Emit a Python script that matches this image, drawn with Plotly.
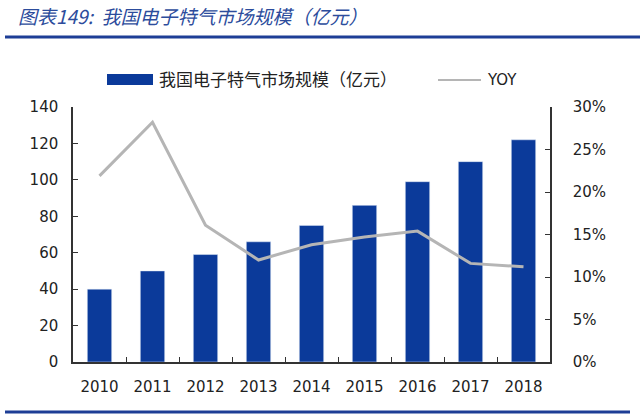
import plotly.graph_objects as go

years = ["2010", "2011", "2012", "2013", "2014", "2015", "2016", "2017", "2018"]
market_size = [40, 50, 59, 66, 75, 86, 99, 110, 122]
yoy = [0.219, 0.282, 0.161, 0.120, 0.138, 0.147, 0.154, 0.116, 0.112]

bar_name = "我国电子特气市场规模（亿元）"
line_name = "YOY"
title_text = "图表149:  我国电子特气市场规模（亿元）"

BLUE = "#0B3A9A"
GREY = "#B5B5B5"
AXIS = "#333333"

# plot area in pixels
L, R, T, B = 73, 550, 107, 362
PW, PH = R - L, B - T


def px(x):
    return (x - L) / PW


def py(y):
    return (B - y) / PH


fig = go.Figure()
fig.add_trace(go.Bar(x=years, y=market_size, name=bar_name, marker_color=BLUE, yaxis="y"))
fig.add_trace(go.Scatter(x=years, y=yoy, name=line_name, mode="lines",
                         line=dict(color=GREY, width=3), yaxis="y2"))

tick_font = dict(family="DejaVu Sans", size=15, color="#222222")

fig.update_layout(
    width=640, height=417,
    paper_bgcolor="white", plot_bgcolor="white",
    margin=dict(l=L, r=640 - R, t=T, b=417 - B),
    bargap=0.54,
    showlegend=False,
    font=dict(family="Noto Sans CJK SC", color="#222222"),
    title=dict(text=f"<i>{title_text}</i>", x=18 / 640, xanchor="left",
               y=1 - 17 / 417, yanchor="middle",
               font=dict(family="Noto Sans CJK SC", size=19, color="#2C4C9C")),
    xaxis=dict(showline=True, linecolor=AXIS, linewidth=1.5, ticks="inside", ticklen=5,
               tickson="boundaries", tickcolor=AXIS, tickfont=tick_font, showgrid=False,
               ticklabelstandoff=10),
    yaxis=dict(range=[0, 140], dtick=20, showline=True, linecolor=AXIS, linewidth=1.5,
               ticks="inside", ticklen=5, tickcolor=AXIS, tickfont=tick_font, showgrid=False,
               zeroline=False, ticklabelstandoff=10),
    yaxis2=dict(range=[0, 0.30], dtick=0.05, tickformat=".0%", overlaying="y", side="right",
                showline=True, linecolor=AXIS, linewidth=1.5, ticks="inside", ticklen=5,
                tickcolor=AXIS, tickfont=tick_font, showgrid=False, zeroline=False,
                ticklabelstandoff=18),
)

# legend drawn by hand: wide bar swatch and line swatch
fig.add_shape(type="rect", xref="paper", yref="paper", x0=px(107), x1=px(153),
              y0=py(85), y1=py(74), fillcolor=BLUE, line=dict(width=0))
fig.add_annotation(text=bar_name, xref="paper", yref="paper", x=px(157), y=py(79),
                   xanchor="left", yanchor="middle", showarrow=False,
                   font=dict(family="Noto Sans CJK SC", size=17, color="#222222"))
fig.add_shape(type="line", xref="paper", yref="paper", x0=px(438), x1=px(481),
              y0=py(80), y1=py(80), line=dict(color=GREY, width=2))
fig.add_annotation(text=line_name, xref="paper", yref="paper", x=px(485), y=py(80),
                   xanchor="left", yanchor="middle", showarrow=False,
                   font=dict(family="DejaVu Sans", size=15, color="#222222"))

# blue rules under the title and above the source line
fig.add_shape(type="line", xref="paper", yref="paper", x0=px(5), x1=px(640),
              y0=py(37), y1=py(37), line=dict(color="#1D3E96", width=3))
fig.add_shape(type="line", xref="paper", yref="paper", x0=px(5), x1=px(630),
              y0=py(412), y1=py(412), line=dict(color="#1D3E96", width=3))

# the page body has a default margin; drop it so the figure sits at the window corner
fig.write_html("out.html", config={"displayModeBar": False},
               post_script="document.body.style.margin='0';")
